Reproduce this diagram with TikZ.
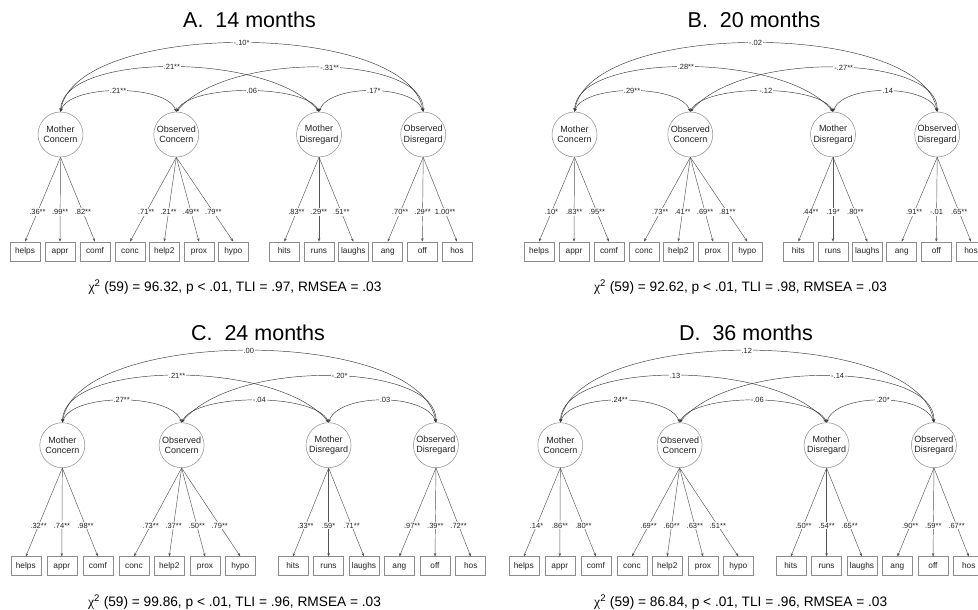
\documentclass[tikz,border=0pt]{standalone}
\usepackage{fontspec}
\setmainfont{Liberation Sans}
\newfontfamily\greekserif{Liberation Serif}
\usetikzlibrary{arrows.meta}

\definecolor{ink}{HTML}{222222}
\definecolor{arcgray}{HTML}{3A3A3A}
\definecolor{loadgray}{HTML}{555555}
\definecolor{boxgray}{HTML}{8C8C8C}

\tikzset{
  latent/.style={circle, draw=boxgray, line width=0.5pt, minimum size=45pt, inner sep=0pt,
    align=center, font=\fontsize{9}{10.5}\selectfont, text=ink},
  manifest/.style={rectangle, draw=boxgray, line width=0.5pt, minimum width=30pt,
    minimum height=19pt, inner sep=0pt, text height=6.2pt, text depth=1.8pt,
    font=\fontsize{8.3}{9}\selectfont, text=ink},
  tipsmall/.tip={Stealth[length=3.5pt,width=2.6pt]},
  corr/.style={draw=arcgray, line width=0.45pt, tipsmall-tipsmall},
  load/.style={draw=loadgray, line width=0.45pt, -tipsmall},
  est/.style={fill=white, inner sep=1pt, font=\fontsize{7.5}{8}\selectfont, text=ink},
  paneltitle/.style={anchor=base, font=\fontsize{21.5}{25}\selectfont, text=black},
  fitline/.style={anchor=base, font=\fontsize{13.7}{16}\selectfont, text=black},
}

\def\parsecorr#1/#2/#3/#4/#5/#6\relax{\def\cvA{#1}\def\cvB{#2}\def\cvC{#3}\def\cvD{#4}\def\cvE{#5}\def\cvF{#6}}
\def\parseconc#1/#2/#3/#4/#5/#6/#7\relax{\def\ldA{#1}\def\ldB{#2}\def\ldC{#3}\def\ldD{#4}\def\ldE{#5}\def\ldF{#6}\def\ldG{#7}}
\def\parsedis#1/#2/#3/#4/#5/#6\relax{\def\ldH{#1}\def\ldI{#2}\def\ldJ{#3}\def\ldK{#4}\def\ldL{#5}\def\ldM{#6}}

% #1 scope options, #2 correlations (outer, MC-MD, OC-OD, MC-OC, OC-MD, MD-OD),
% #3 concern loadings (7), #4 disregard loadings (6)
\newcommand\sempanel[4]{%
  \parsecorr#2\relax
  \parseconc#3\relax
  \parsedis#4\relax
  \begin{scope}[#1]
    \node[latent] (MC) at (60.5,134.5) {Mother\\Concern};
    \node[latent] (OC) at (176.3,134.5) {Observed\\Concern};
    \node[latent] (MD) at (319,134.5) {Mother\\Disregard};
    \node[latent] (OD) at (423.2,134.5) {Observed\\Disregard};
    \foreach \i/\x/\t in {1/25/helps,2/60/appr,3/95/comf,4/130/conc,5/164.3/help2,
        6/199/prox,7/233.3/hypo,8/284.3/hits,9/319/runs,10/353.3/laughs,
        11/387.7/ang,12/422.3/off,13/457/hos}
      \node[manifest] (b\i) at (\x,251.4) {\t};
    % correlations
    \draw[corr] (MC.north) .. controls (75,20) and (408,20) .. node[est,pos=.5] (kA) {\cvA} (OD.north);
    \draw[corr] (MC.north) .. controls (62,52) and (270,52) .. node[est,pos=.5] (kB) {\cvB} (MD.north);
    \draw[corr] (OC.north) .. controls (228,50) and (425,55) .. node[est,pos=.53] (kC) {\cvC} (OD.north);
    \draw[corr] (MC.north) .. controls (70,84) and (166,84) .. node[est,pos=.5] (kD) {\cvD} (OC.north);
    \draw[corr] (OC.north) .. controls (190,84) and (306,84) .. node[est,pos=.52] (kE) {\cvE} (MD.north);
    \draw[corr] (MD.north) .. controls (329,84) and (413,84) .. node[est,pos=.52] (kF) {\cvF} (OD.north);
    % loadings
    \draw[load] (MC.south) -- node[est,pos=.65] (lA) {\ldA} (b1.north);
    \draw[load] (MC.south) -- node[est,pos=.65] (lB) {\ldB} (b2.north);
    \draw[load] (MC.south) -- node[est,pos=.65] (lC) {\ldC} (b3.north);
    \draw[load] (OC.south) -- node[est,pos=.65] (lD) {\ldD} (b4.north);
    \draw[load] (OC.south) -- node[est,pos=.65] (lE) {\ldE} (b5.north);
    \draw[load] (OC.south) -- node[est,pos=.65] (lF) {\ldF} (b6.north);
    \draw[load] (OC.south) -- node[est,pos=.65] (lG) {\ldG} (b7.north);
    \draw[load] (MD.south) -- node[est,pos=.65] (lH) {\ldH} (b8.north);
    \draw[load] (MD.south) -- node[est,pos=.65] (lI) {\ldI} (b9.north);
    \draw[load] (MD.south) -- node[est,pos=.65] (lJ) {\ldJ} (b10.north);
    \draw[load] (OD.south) -- node[est,pos=.65] (lK) {\ldK} (b11.north);
    \draw[load] (OD.south) -- node[est,pos=.65] (lL) {\ldL} (b12.north);
    \draw[load] (OD.south) -- node[est,pos=.65] (lM) {\ldM} (b13.north);
  \end{scope}}

\newcommand\chisq{{\greekserif χ}\textsuperscript{2}}

\begin{document}
\begin{tikzpicture}[x=1pt, y=-1pt]
\useasboundingbox (0,0) rectangle (978,610);
\clip (0,0) rectangle (978,610);
\fill[white] (0,0) rectangle (978,610);

% panel A
\node[paneltitle] (tA) at (249.5,28) {A.~~14 months};
\sempanel{name prefix=A-}
  {-.10*/.21**/-.31**/.21**/.06/.17*}
  {.36**/.99**/.82**/.71**/.21**/.49**/.79**}
  {.83**/.29**/.51**/.70**/.29**/1.00**}
\node[fitline] (fA) at (235,291.5) {\chisq{} (59) = 96.32, p < .01, TLI = .97, RMSEA = .03};

% panel B
\node[paneltitle] (tB) at (754,28) {B.~~20 months};
\sempanel{shift={(514,0)}, name prefix=B-}
  {-.02/.28**/-.27**/.29**/-.12/.14}
  {.10*/.83**/.95**/.73**/.41**/.69**/.81**}
  {.44**/.19*/.80**/.91**/-.01/.65**}
\node[fitline] (fB) at (740.5,291.5) {\chisq{} (59) = 92.62, p < .01, TLI = .98, RMSEA = .03};

% panel C
\node[paneltitle] (tC) at (258,340) {C.~~24 months};
\sempanel{shift={(0,306)}, xscale=1.03, yscale=1.035, name prefix=C-}
  {.00/.21**/-.20*/.27**/-.04/.03}
  {.32**/.74**/.98**/.73**/.37**/.50**/.79**}
  {.33**/.59*/.71**/.97**/.39**/.72**}
\node[fitline] (fC) at (234.5,606.5) {\chisq{} (59) = 99.86, p < .01, TLI = .96, RMSEA = .03};

% panel D
\node[paneltitle] (tD) at (746,340) {D.~~36 months};
\sempanel{shift={(498,306)}, xscale=1.03, yscale=1.035, name prefix=D-}
  {.12/.13/-.14/.24**/-.06/.20*}
  {.14*/.86**/.80**/.69**/.60**/.63**/.51**}
  {.50**/.54**/.65**/.90**/.59**/.67**}
\node[fitline] (fD) at (740.7,606.5) {\chisq{} (59) = 86.84, p < .01, TLI = .96, RMSEA = .03};
\end{tikzpicture}
\end{document}
